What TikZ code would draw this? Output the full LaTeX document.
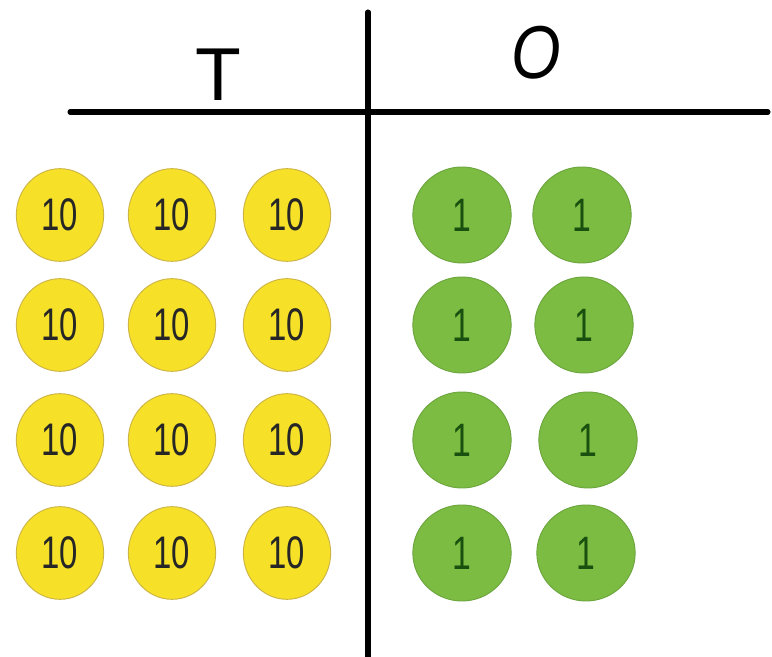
\documentclass[tikz,border=0pt]{standalone}
\usepackage{fontspec}
\setmainfont{Liberation Sans}
\newfontfamily\coinfont{Liberation Sans}[FakeStretch=0.72]
\newfontfamily\headfont{Liberation Sans}[FakeStretch=0.85]
\usepackage{xcolor}
\usepackage{tikz}
\usetikzlibrary{shapes.geometric, positioning}
\definecolor{tenyellow}{RGB}{246,225,40}
\definecolor{tenedge}{RGB}{205,180,70}
\definecolor{onegreen}{RGB}{125,188,66}
\definecolor{oneedge}{RGB}{108,165,62}
\definecolor{onemark}{RGB}{25,80,15}
\tikzstyle{rule} = [line width=4.3pt, line cap=round]
\tikzstyle{heading} = [font=\fontsize{64}{64}\selectfont, inner sep=0pt]
\tikzstyle{tencoin} = [ellipse, draw=tenedge, line width=0.8pt, fill=tenyellow, minimum width=2.62cm, minimum height=2.78cm, inner sep=0pt, font=\coinfont\fontsize{39}{39}\selectfont, text=black!85]
\tikzstyle{onecoin} = [ellipse, draw=oneedge, line width=0.8pt, fill=onegreen, minimum width=2.95cm, minimum height=2.88cm, inner sep=0pt, font=\coinfont\fontsize{40}{40}\selectfont, text=onemark]

\begin{document}
\begin{tikzpicture}[x=0.03cm, y=-0.03cm]
\useasboundingbox (0,0) rectangle (772,657);
% place-value chart lines
\coordinate (hleft) at (70,112);
\coordinate (hright) at (768,112);
\coordinate (vtop) at (368,12);
\coordinate (vbottom) at (368,662);
\draw [rule] (hleft) -- (hright);
\draw [rule] (vtop) -- (vbottom);

\node (tens) [heading] at (218,75) {T};
\node (ones) [heading, font=\headfont\fontsize{64}{64}\selectfont] at (536,53) {\itshape O};

% tens
\node (t11) [tencoin] at (60,215) {10};
\node (t12) [tencoin] at (172,215) {10};
\node (t13) [tencoin] at (287,215) {10};
\node (t21) [tencoin] at (60,325) {10};
\node (t22) [tencoin] at (172,325) {10};
\node (t23) [tencoin] at (287,325) {10};
\node (t31) [tencoin] at (60,440) {10};
\node (t32) [tencoin] at (172,440) {10};
\node (t33) [tencoin] at (287,440) {10};
\node (t41) [tencoin] at (60,553) {10};
\node (t42) [tencoin] at (172,553) {10};
\node (t43) [tencoin] at (287,553) {10};

% ones
\node (o11) [onecoin] at (462,215) {1};
\node (o12) [onecoin] at (582,215) {1};
\node (o21) [onecoin] at (462,325) {1};
\node (o22) [onecoin] at (584,325) {1};
\node (o31) [onecoin] at (462,440) {1};
\node (o32) [onecoin] at (588,440) {1};
\node (o41) [onecoin] at (462,553) {1};
\node (o42) [onecoin] at (586,553) {1};
\end{tikzpicture}
\end{document}
